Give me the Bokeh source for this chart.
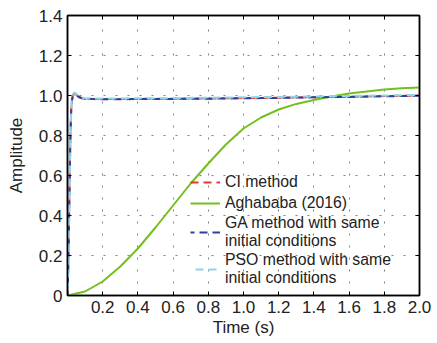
from bokeh.plotting import figure
from bokeh.models import LinearAxis, Legend, LegendItem, FixedTicker, Range1d, CustomLabelingPolicy
from bokeh.embed import file_html
from bokeh.resources import INLINE

# ---- data ----
t_fast = [0, 0.004, 0.008, 0.012, 0.016, 0.02, 0.025, 0.03, 0.04, 0.05, 0.06, 0.08,
          0.1, 0.15, 0.2, 0.4, 0.6, 0.8, 1.0, 1.2, 1.4, 1.6, 1.8, 2.0]
ci_method = [0, 0.15, 0.35, 0.58, 0.78, 0.92, 0.98, 1.0, 1.008, 1.0, 0.992, 0.986,
             0.983, 0.982, 0.982, 0.983, 0.984, 0.985, 0.987, 0.989, 0.991, 0.994, 0.997, 1.0]
ga_method = [0, 0.12, 0.32, 0.55, 0.76, 0.9, 0.97, 0.995, 1.01, 1.005, 0.995, 0.988,
             0.984, 0.982, 0.981, 0.982, 0.983, 0.984, 0.986, 0.988, 0.991, 0.993, 0.996, 0.999]
pso_method = [0, 0.1, 0.3, 0.52, 0.74, 0.9, 0.975, 1.005, 1.015, 1.008, 0.998, 0.99,
              0.986, 0.985, 0.985, 0.986, 0.987, 0.989, 0.991, 0.993, 0.995, 0.998, 1.0, 1.003]

t_slow = [0, 0.1, 0.2, 0.3, 0.4, 0.5, 0.6, 0.7, 0.8, 0.9, 1.0, 1.1, 1.2, 1.3, 1.4,
          1.5, 1.6, 1.7, 1.8, 1.9, 2.0]
aghababa = [0, 0.02, 0.07, 0.145, 0.235, 0.34, 0.45, 0.56, 0.66, 0.755, 0.835, 0.89,
            0.93, 0.958, 0.978, 0.995, 1.01, 1.02, 1.03, 1.036, 1.04]

x_ticks = [0, 0.2, 0.4, 0.6, 0.8, 1.0, 1.2, 1.4, 1.6, 1.8, 2.0]
y_ticks = [0, 0.2, 0.4, 0.6, 0.8, 1.0, 1.2, 1.4]
x_tick_labels = ["", "0.2", "0.4", "0.6", "0.8", "1.0", "1.2", "1.4", "1.6", "1.8", "2.0"]
y_tick_labels = ["0", "0.2", "0.4", "0.6", "0.8", "1.0", "1.2", "1.4"]

FONT = "Liberation Sans"
TXT = "#222222"

p = figure(width=437, height=343, x_range=Range1d(0, 2.0), y_range=Range1d(0, 1.4),
           output_backend="svg", toolbar_location=None,
           min_border_left=67, min_border_top=15, min_border_right=14, min_border_bottom=48)
p.background_fill_color = "white"
p.border_fill_color = "white"
p.outline_line_color = "black"
p.outline_line_width = 1.5

for ax, ticks, labels in ((p.xaxis[0], x_ticks, x_tick_labels), (p.yaxis[0], y_ticks, y_tick_labels)):
    ax.ticker = FixedTicker(ticks=ticks)
    ax.major_label_overrides = {t: l for t, l in zip(ticks, labels)}
    ax.major_tick_in = 4
    ax.major_tick_out = 0
    ax.minor_tick_line_color = None
    ax.axis_line_color = "black"
    ax.axis_line_width = 1.5
    ax.major_tick_line_color = "black"
    ax.major_label_text_font = FONT
    ax.major_label_text_font_size = "17px"
    ax.major_label_text_color = TXT
    ax.axis_label_text_font = FONT
    ax.axis_label_text_font_size = "17px"
    ax.axis_label_text_font_style = "normal"
    ax.axis_label_text_color = TXT

p.xaxis.axis_label = "Time (s)"
p.yaxis.axis_label = "Amplitude"
p.xaxis.major_label_standoff = 5
p.xaxis.axis_label_standoff = 2
p.yaxis.major_label_standoff = 5
p.yaxis.axis_label_standoff = 10

for loc, ticks in (("right", y_ticks), ("above", x_ticks)):
    ax = LinearAxis(ticker=FixedTicker(ticks=ticks),
                    major_label_policy=CustomLabelingPolicy(code="return []"),
                    major_tick_in=4, major_tick_out=0, minor_tick_line_color=None,
                    axis_line_color="black", axis_line_width=1.5, major_label_standoff=0)
    p.add_layout(ax, loc)

for g in (p.xgrid[0], p.ygrid[0]):
    g.grid_line_color = "#808080"
    g.grid_line_dash = "2 10"
    g.grid_line_width = 1
p.xgrid.ticker = FixedTicker(ticks=x_ticks)
p.ygrid.ticker = FixedTicker(ticks=y_ticks)

r_ci = p.line(t_fast, ci_method, line_color="#e8392c", line_width=2, line_dash="8 5")
r_ag = p.line(t_slow, aghababa, line_color="#74bf1c", line_width=2)
r_ga = p.line(t_fast, ga_method, line_color="#2d40a0", line_width=2, line_dash="8 5",
              line_dash_offset=4)
r_pso = p.line(t_fast, pso_method, line_color="#8ed6e6", line_width=2, line_dash="8 5",
               line_dash_offset=8)

legend = Legend(items=[
    LegendItem(label="CI method", renderers=[r_ci]),
    LegendItem(label="Aghababa (2016)", renderers=[r_ag]),
    LegendItem(label="GA method with same\ninitial conditions", renderers=[r_ga]),
    LegendItem(label="PSO method with same\ninitial conditions", renderers=[r_pso]),
], location=(123, 8))
legend.background_fill_alpha = 0
legend.border_line_color = None
legend.padding = 0
legend.margin = 0
legend.spacing = 1
legend.glyph_width = 30
legend.label_standoff = 5
legend.label_text_font = FONT
legend.label_text_font_size = "15.8px"
legend.label_text_color = TXT
p.add_layout(legend, "center")

open("out.html", "w").write(file_html(p, INLINE))
